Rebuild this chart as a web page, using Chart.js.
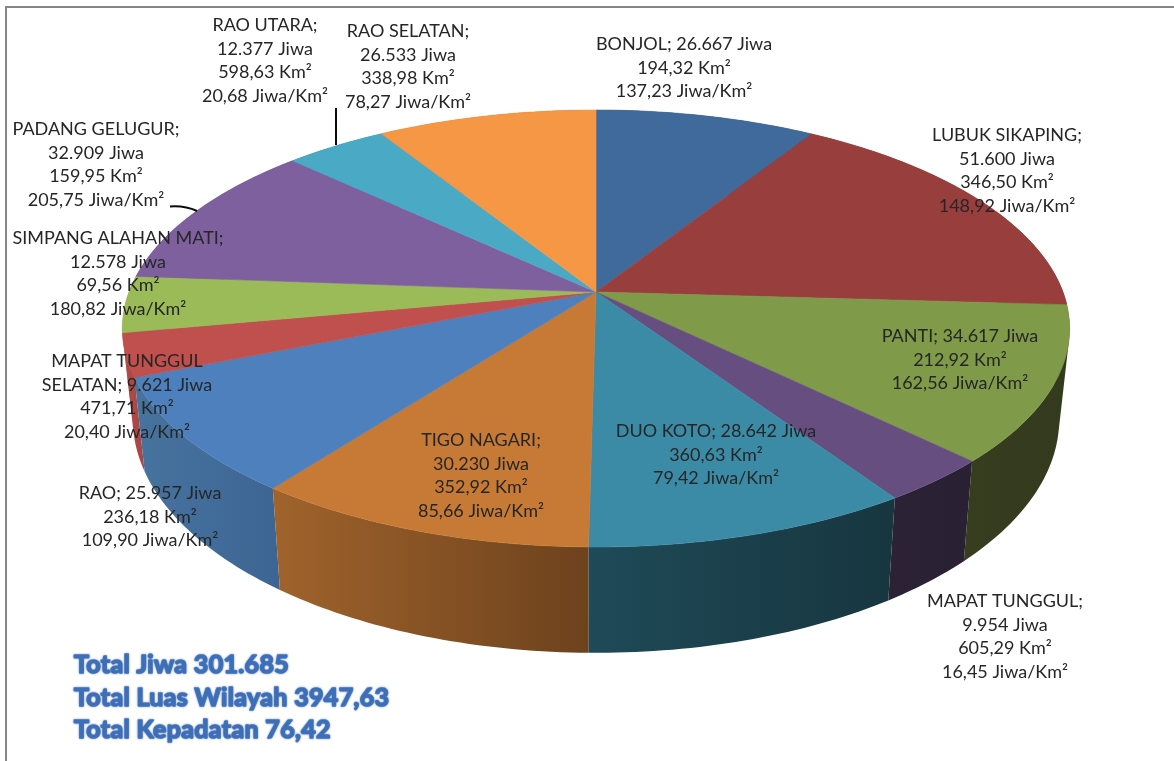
<!DOCTYPE html>
<html>
<head>
<meta charset="utf-8">
<style>html,body{margin:0;padding:0;background:#fff}canvas{display:block}</style>
<script src="https://cdn.jsdelivr.net/npm/chart.js@4"></script>
</head>
<body>
<canvas id="c" width="1174" height="761"></canvas>
<script>
const categories = ['BONJOL','LUBUK SIKAPING','PANTI','MAPAT TUNGGUL','DUO KOTO','TIGO NAGARI','RAO','MAPAT TUNGGUL SELATAN','SIMPANG ALAHAN MATI','PADANG GELUGUR','RAO UTARA','RAO SELATAN'];
const jiwa = [26667,51600,34617,9954,28642,30230,25957,9621,12578,32909,12377,26533];
const labelLines = [
  ['BONJOL; 26.667 Jiwa','194,32 Km²','137,23 Jiwa/Km²'],
  ['LUBUK SIKAPING;','51.600 Jiwa','346,50 Km²','148,92 Jiwa/Km²'],
  ['PANTI; 34.617 Jiwa','212,92 Km²','162,56 Jiwa/Km²'],
  ['MAPAT TUNGGUL;','9.954 Jiwa','605,29 Km²','16,45 Jiwa/Km²'],
  ['DUO KOTO; 28.642 Jiwa','360,63 Km²','79,42 Jiwa/Km²'],
  ['TIGO NAGARI;','30.230 Jiwa','352,92 Km²','85,66 Jiwa/Km²'],
  ['RAO; 25.957 Jiwa','236,18 Km²','109,90 Jiwa/Km²'],
  ['MAPAT TUNGGUL','SELATAN; 9.621 Jiwa','471,71 Km²','20,40 Jiwa/Km²'],
  ['SIMPANG ALAHAN MATI;','12.578 Jiwa','69,56 Km²','180,82 Jiwa/Km²'],
  ['PADANG GELUGUR;','32.909 Jiwa','159,95 Km²','205,75 Jiwa/Km²'],
  ['RAO UTARA;','12.377 Jiwa','598,63 Km²','20,68 Jiwa/Km²'],
  ['RAO SELATAN;','26.533 Jiwa','338,98 Km²','78,27 Jiwa/Km²']
];
const totals = ['Total Jiwa 301.685','Total Luas Wilayah 3947,63','Total Kepadatan 76,42'];

// Styles and layout, separate from the data
const topColors = ['#3f6a9b','#983f3e','#7f9a48','#664f80','#3b8ba6','#c67a35','#4d80bd','#bf504d','#9bbb58','#7f609f','#4aaac5','#f59744'];
const sideLeft  = ['#2b4a6e','#6a2c2b','#373d1f','#2b2235','#1f4a58','#a0632c','#47739f','#b24b48','#6d843e','#59436f','#347789','#ad6931'];
const sideRight = ['#2b4a6e','#6a2c2b','#333a1d','#2a2033','#17363f','#6d421d','#3d6593','#a84543','#6d843e','#59436f','#347789','#ad6931'];
const labelAnchors = [[684,43],[1007,134],[960,335],[1005,600],[716,430],[481,439],[150,492],[127,360],[118,237],[96,128],[265,24],[408,30]];
const lineGap = 23.8;
const view = {cx:596, cy:292, R:467, S:212.4, k:0.167, sx:0.978, sy:1.07, oy:380};

function topPt(a){
  const u=Math.cos(a), v=Math.sin(a), w=1-view.k*v;
  return [view.cx+view.R*u/w, view.cy+view.S*v/w];
}
function lowPt(a){
  const p=topPt(a);
  return [view.cx+view.sx*(p[0]-view.cx), view.oy+view.sy*(p[1]-view.cy)];
}
function samples(s,e){
  const n=Math.max(2,Math.ceil((e-s)/(Math.PI/180))), out=[];
  for(let i=0;i<=n;i++) out.push(s+(e-s)*i/n);
  return out;
}
function area(q){
  let s=0;
  q.forEach((p,i)=>{const r=q[(i+1)%q.length]; s+=p[0]*r[1]-r[0]*p[1];});
  return s;
}

const perspectivePie = {
  id:'perspectivePie',
  beforeDatasetDraw(chart,args){
    const ctx=chart.ctx, arcs=args.meta.data;
    ctx.save();
    // rim (side wall), far slices first; a single path of same-wound ruled quads
    const order=arcs.map((el,i)=>i).sort((a,b)=>
      Math.sin((arcs[a].startAngle+arcs[a].endAngle)/2)-Math.sin((arcs[b].startAngle+arcs[b].endAngle)/2));
    order.forEach(i=>{
      const el=arcs[i], as=samples(el.startAngle,el.endAngle);
      const tops=as.map(topPt), lows=as.map(lowPt);
      const xs=tops.concat(lows).map(p=>p[0]);
      const g=ctx.createLinearGradient(Math.min(...xs),0,Math.max(...xs),0);
      g.addColorStop(0,sideLeft[i]); g.addColorStop(1,sideRight[i]);
      ctx.beginPath();
      for(let j=0;j<as.length-1;j++){
        let q=[tops[j],tops[j+1],lows[j+1],lows[j]];
        if(area(q)<0) q=q.reverse();
        q.forEach((p,m)=>m?ctx.lineTo(p[0],p[1]):ctx.moveTo(p[0],p[1]));
        ctx.closePath();
      }
      ctx.fillStyle=g;
      ctx.fill('nonzero');
    });
    // top face
    arcs.forEach((el,i)=>{
      ctx.beginPath();
      ctx.moveTo(view.cx,view.cy);
      samples(el.startAngle,el.endAngle).map(topPt).forEach(p=>ctx.lineTo(p[0],p[1]));
      ctx.closePath();
      ctx.fillStyle=el.options.backgroundColor;
      ctx.strokeStyle=el.options.backgroundColor; ctx.lineWidth=0.6;
      ctx.fill(); ctx.stroke();
    });
    ctx.restore();
    return false;
  },
  afterDraw(chart){
    const ctx=chart.ctx;
    ctx.save();
    // frame
    ctx.strokeStyle='#868686'; ctx.lineWidth=2;
    ctx.beginPath(); ctx.moveTo(6,761); ctx.lineTo(6,7); ctx.lineTo(1174,7); ctx.stroke();
    // leader lines
    ctx.strokeStyle='#0a0a0a'; ctx.lineWidth=2;
    ctx.beginPath(); ctx.moveTo(336,108); ctx.lineTo(336,145); ctx.stroke();
    ctx.beginPath(); ctx.moveTo(170,206.5); ctx.quadraticCurveTo(185,205.5,197,211); ctx.stroke();
    // data labels
    ctx.fillStyle='#262626';
    ctx.font='18px Lato';
    ctx.textAlign='center'; ctx.textBaseline='middle';
    labelLines.forEach((lines,i)=>lines.forEach((t,j)=>
      ctx.fillText(t,labelAnchors[i][0],labelAnchors[i][1]+1+j*lineGap)));
    // totals
    ctx.textAlign='left';
    ctx.font='bold 25px Lato';
    ctx.letterSpacing='0.35px';
    ctx.lineJoin='round';
    totals.forEach((t,i)=>{
      const y=665+i*32.5;
      ctx.shadowColor='rgba(60,100,170,.7)'; ctx.shadowBlur=2;
      ctx.strokeStyle='#4a7cc0'; ctx.lineWidth=1.6;
      ctx.strokeText(t,74,y);
      ctx.fillStyle='#3c6fb8';
      ctx.fillText(t,74,y);
    });
    ctx.restore();
  }
};

new Chart(document.getElementById('c'),{
  type:'pie',
  data:{labels:categories,datasets:[{data:jiwa,backgroundColor:topColors,borderWidth:0}]},
  options:{
    responsive:false,animation:false,
    plugins:{legend:{display:false},tooltip:{enabled:false},title:{display:false}}
  },
  plugins:[perspectivePie]
});
</script>
</body>
</html>
